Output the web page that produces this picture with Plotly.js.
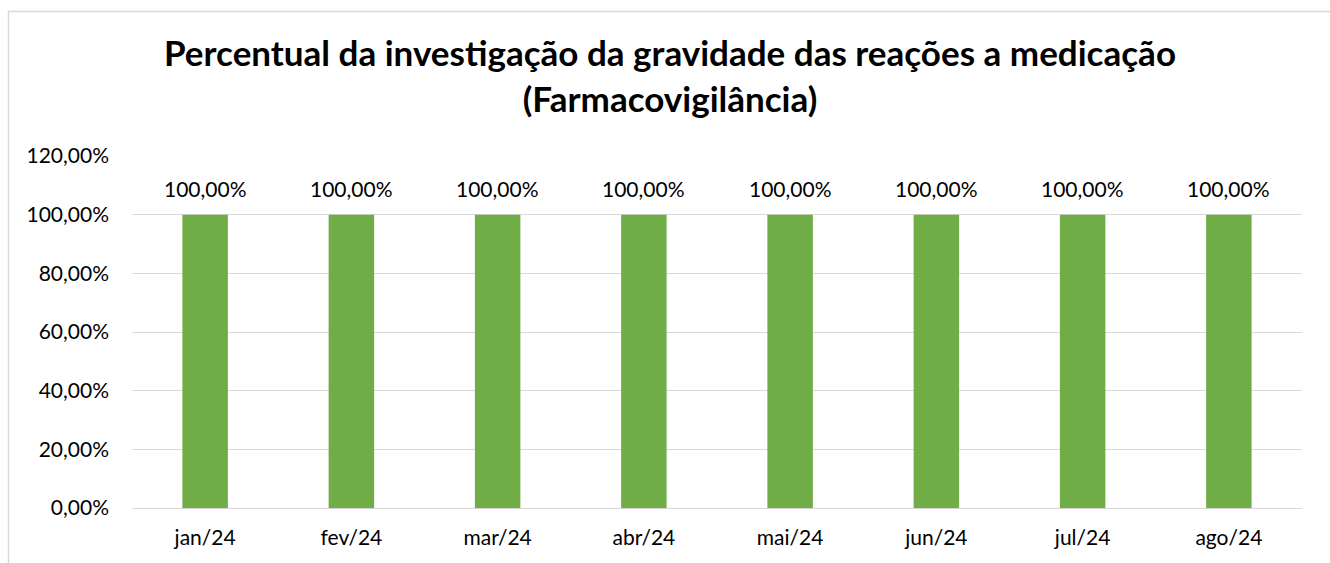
<!DOCTYPE html>
<html>
<head>
<meta charset="utf-8">
<script src="https://cdn.plot.ly/plotly-3.0.1.min.js"></script>
<style>
html,body{margin:0;padding:0;background:#fff;overflow:hidden;}
#chart{width:1330px;height:563px;}
</style>
</head>
<body>
<div id="chart"></div>
<script>
const months = ["jan/24","fev/24","mar/24","abr/24","mai/24","jun/24","jul/24","ago/24"];
const percentValues = [100, 100, 100, 100, 100, 100, 100, 100];
const yTickValues = [0, 20, 40, 60, 80, 100, 120];
const yTickLabels = ["0,00%","20,00%","40,00%","60,00%","80,00%","100,00%","120,00%"];
const chartTitle = "Percentual da investigação da gravidade das reações a medicação<br>(Farmacovigilância)";

function fmt(v){ return v.toFixed(2).replace(".", ",") + "%"; }

const W = 1330, H = 563;
const mL = 132, mR = 28, mT = 156, mB = 55;
const pw = W - mL - mR, ph = H - mT - mB;
const FONT = "Lato, 'Open Sans', sans-serif";

const trace = {
  type: "bar",
  x: months,
  y: percentValues,
  marker: {color: "#70ad47"},
  hoverinfo: "skip"
};

const annotations = months.map((m, i) => ({
  x: m, y: percentValues[i], xref: "x", yref: "y",
  text: fmt(percentValues[i]),
  showarrow: false, yanchor: "bottom", yshift: 12,
  font: {family: FONT, size: 21, color: "#000"}
}));

const layout = {
  width: W, height: H,
  margin: {l: mL, r: mR, t: mT, b: mB, pad: 0},
  paper_bgcolor: "#fff", plot_bgcolor: "#fff",
  showlegend: false,
  bargap: 0.689,
  title: {
    text: chartTitle,
    x: 670 / W, xref: "container", xanchor: "center",
    y: 1 - 66 / H, yref: "container", yanchor: "top",
    font: {family: FONT, size: 35, color: "#000", weight: "bold"}
  },
  xaxis: {
    type: "category",
    showgrid: false, zeroline: false, showline: false,
    ticks: "", ticklabelstandoff: 15,
    tickfont: {family: FONT, size: 21, color: "#000"},
    fixedrange: true
  },
  yaxis: {
    range: [0, 120],
    tickvals: yTickValues, ticktext: yTickLabels,
    showgrid: true, gridcolor: "#d9d9d9", gridwidth: 1,
    zeroline: true, zerolinecolor: "#d9d9d9", zerolinewidth: 1,
    showline: false, ticks: "", ticklabelstandoff: 22,
    tickfont: {family: FONT, size: 21, color: "#000"},
    fixedrange: true
  },
  annotations: annotations,
  shapes: [{
    type: "rect", xref: "paper", yref: "paper", layer: "below",
    x0: (8.5 - mL) / pw, x1: (1345 - mL) / pw,
    y0: (H - mB - 580) / ph * 1, y1: (H - mB - 11.5) / ph,
    line: {color: "#d9d9d9", width: 1.5}, fillcolor: "rgba(0,0,0,0)"
  }]
};

Plotly.newPlot("chart", [trace], layout, {displayModeBar: false, staticPlot: true});
</script>
</body>
</html>
